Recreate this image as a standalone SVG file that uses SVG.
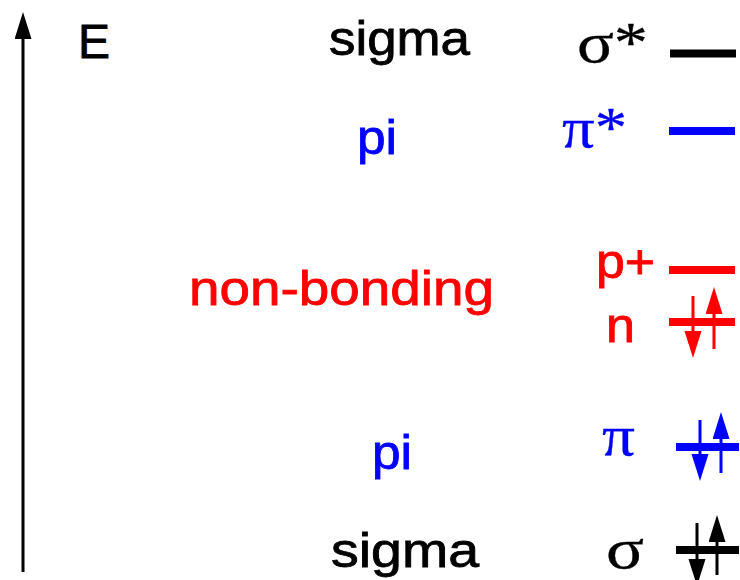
<svg xmlns="http://www.w3.org/2000/svg" width="740" height="580" viewBox="0 0 740 580">
<defs>
<style>
.t{font-family:"Liberation Sans",Arial,sans-serif;font-size:48px;stroke-width:0.8px}
.g{font-family:"Liberation Serif","Times New Roman",serif;font-size:56px;stroke-width:0.3px}
.k{fill:#000;stroke:#000}.b{fill:#0000ff;stroke:#0000ff}.r{fill:#ff0000;stroke:#ff0000}
.lvl{stroke-width:8}
.e{stroke-width:3;fill:none}
</style>
<marker id="hk" markerUnits="userSpaceOnUse" markerWidth="27" markerHeight="18" refX="16" refY="8.5" orient="auto"><path d="M0,0 L27,8.5 L0,17 z" fill="#000"/></marker>
<marker id="hb" markerUnits="userSpaceOnUse" markerWidth="27" markerHeight="18" refX="16" refY="8.5" orient="auto"><path d="M0,0 L27,8.5 L0,17 z" fill="#0000ff"/></marker>
<marker id="hr" markerUnits="userSpaceOnUse" markerWidth="27" markerHeight="18" refX="16" refY="8.5" orient="auto"><path d="M0,0 L27,8.5 L0,17 z" fill="#ff0000"/></marker>
</defs>
<rect width="740" height="580" fill="#fff"/>
<g id="connectors">
<line x1="23" y1="572" x2="23" y2="23" stroke="#000" stroke-width="3" marker-end="url(#hk)"/>
</g>
<g id="axis-label"><text class="t k" x="78" y="58" textLength="32" lengthAdjust="spacingAndGlyphs">E</text></g>
<g id="label-sigma-top"><text class="t k" x="329" y="55" textLength="141" lengthAdjust="spacingAndGlyphs">sigma</text></g>
<g id="label-pi-top"><text class="t b" x="357" y="154" textLength="40" lengthAdjust="spacingAndGlyphs">pi</text></g>
<g id="label-nonbonding"><text class="t r" x="189" y="305" textLength="305" lengthAdjust="spacingAndGlyphs">non-bonding</text></g>
<g id="label-pi-bottom"><text class="t b" x="372" y="469" textLength="40" lengthAdjust="spacingAndGlyphs">pi</text></g>
<g id="label-sigma-bottom"><text class="t k" x="331" y="567" textLength="148" lengthAdjust="spacingAndGlyphs">sigma</text></g>
<g id="level-sigma-star">
<text class="g k" x="577" y="62" textLength="71" lengthAdjust="spacingAndGlyphs">σ*</text>
<line class="lvl" x1="670" y1="53.5" x2="736" y2="53.5" stroke="#000"/>
</g>
<g id="level-pi-star">
<text class="g b" x="562" y="147" textLength="65" lengthAdjust="spacingAndGlyphs">π*</text>
<line class="lvl" x1="669" y1="131" x2="735" y2="131" stroke="#0000ff"/>
</g>
<g id="level-p-plus">
<text class="t r" x="596" y="278" textLength="59" lengthAdjust="spacingAndGlyphs">p+</text>
<line class="lvl" x1="669" y1="270" x2="735" y2="270" stroke="#ff0000"/>
</g>
<g id="level-n">
<text class="t r" x="606" y="342" textLength="29" lengthAdjust="spacingAndGlyphs">n</text>
<line class="lvl" x1="669" y1="322" x2="735" y2="322" stroke="#ff0000"/>
<line class="e" x1="693" y1="296" x2="693" y2="347" stroke="#ff0000" marker-end="url(#hr)"/>
<line class="e" x1="714" y1="349" x2="714" y2="298" stroke="#ff0000" marker-end="url(#hr)"/>
</g>
<g id="level-pi">
<text class="g b" x="602" y="455" textLength="33" lengthAdjust="spacingAndGlyphs">π</text>
<line class="lvl" x1="676" y1="447" x2="739" y2="447" stroke="#0000ff"/>
<line class="e" x1="700" y1="420" x2="700" y2="470" stroke="#0000ff" marker-end="url(#hb)"/>
<line class="e" x1="721" y1="473" x2="721" y2="423" stroke="#0000ff" marker-end="url(#hb)"/>
</g>
<g id="level-sigma">
<text class="g k" x="606" y="568" textLength="38" lengthAdjust="spacingAndGlyphs">σ</text>
<line class="lvl" x1="676" y1="550" x2="739" y2="550" stroke="#000"/>
<line class="e" x1="697" y1="523" x2="697" y2="575" stroke="#000" marker-end="url(#hk)"/>
<line class="e" x1="717" y1="575" x2="717" y2="526" stroke="#000" marker-end="url(#hk)"/>
</g>
</svg>
